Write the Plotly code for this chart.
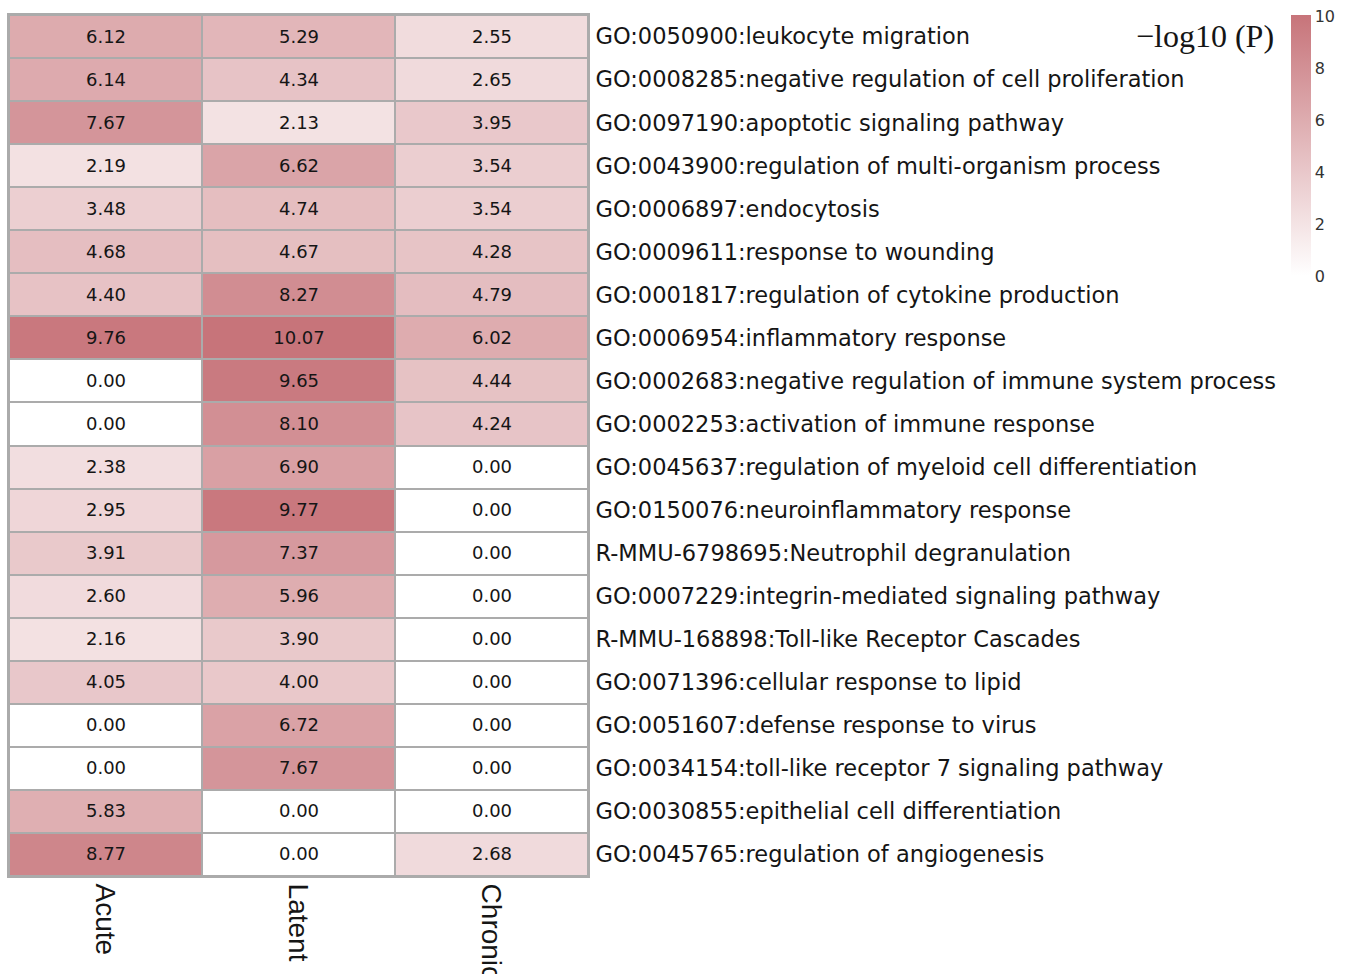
import plotly.graph_objects as go

# Enrichment terms (top to bottom) and the three stages
terms = [
    "GO:0050900:leukocyte migration",
    "GO:0008285:negative regulation of cell proliferation",
    "GO:0097190:apoptotic signaling pathway",
    "GO:0043900:regulation of multi-organism process",
    "GO:0006897:endocytosis",
    "GO:0009611:response to wounding",
    "GO:0001817:regulation of cytokine production",
    "GO:0006954:inflammatory response",
    "GO:0002683:negative regulation of immune system process",
    "GO:0002253:activation of immune response",
    "GO:0045637:regulation of myeloid cell differentiation",
    "GO:0150076:neuroinflammatory response",
    "R-MMU-6798695:Neutrophil degranulation",
    "GO:0007229:integrin-mediated signaling pathway",
    "R-MMU-168898:Toll-like Receptor Cascades",
    "GO:0071396:cellular response to lipid",
    "GO:0051607:defense response to virus",
    "GO:0034154:toll-like receptor 7 signaling pathway",
    "GO:0030855:epithelial cell differentiation",
    "GO:0045765:regulation of angiogenesis",
]
stages = ["Acute", "Latent", "Chronic"]

# -log10(P) per stage
acute = [6.12, 6.14, 7.67, 2.19, 3.48, 4.68, 4.40, 9.76, 0.00, 0.00,
         2.38, 2.95, 3.91, 2.60, 2.16, 4.05, 0.00, 0.00, 5.83, 8.77]
latent = [5.29, 4.34, 2.13, 6.62, 4.74, 4.67, 8.27, 10.07, 9.65, 8.10,
          6.90, 9.77, 7.37, 5.96, 3.90, 4.00, 6.72, 7.67, 0.00, 0.00]
chronic = [2.55, 2.65, 3.95, 3.54, 3.54, 4.28, 4.79, 6.02, 4.44, 4.24,
           0.00, 0.00, 0.00, 0.00, 0.00, 0.00, 0.00, 0.00, 0.00, 2.68]

colorbar_ticks = [0, 2, 4, 6, 8, 10]

z = [[a, l, c] for a, l, c in zip(acute, latent, chronic)]

W, H = 1352, 974
L, R, T, B = 9, 764, 15, 98
pw = W - L - R
ph = H - T - B

WIDE = "DejaVu Sans, Verdana, sans-serif"
GRID = "#ababab"

fig = go.Figure(
    go.Heatmap(
        z=z,
        x=stages,
        y=terms,
        zmin=0,
        zmax=10.07,
        colorscale=[[0, "rgb(255,255,255)"], [1, "rgb(199,116,122)"]],
        xgap=2,
        ygap=2,
        texttemplate="%{z:.2f}",
        textfont=dict(family=WIDE, size=18, color="#151515"),
        hoverinfo="skip",
        colorbar=dict(
            x=(1291 - L) / pw,
            xanchor="left",
            xref="paper",
            xpad=0,
            y=1 - (5 - T) / ph,
            yanchor="top",
            lenmode="pixels",
            len=281,
            ypad=10,
            thickness=20,
            outlinewidth=0,
            tickvals=colorbar_ticks,
            ticks="",
            ticklabelposition="outside",
            tickfont=dict(family=WIDE, size=16, color="#333333"),
        ),
    )
)

fig.update_layout(
    width=W,
    height=H,
    margin=dict(l=L, r=R, t=T, b=B, pad=0, autoexpand=False),
    paper_bgcolor="white",
    plot_bgcolor=GRID,
    font=dict(family=WIDE, color="#151515"),
    xaxis=dict(
        side="bottom",
        tickangle=90,
        tickfont=dict(family="Liberation Sans, Arial, sans-serif", size=28, color="#151515"),
        ticks="",
        automargin=False,
        showgrid=False,
        zeroline=False,
        showline=True,
        linecolor=GRID,
        linewidth=2,
        mirror=True,
        range=[-0.5, 2.5],
    ),
    yaxis=dict(
        side="right",
        autorange="reversed",
        tickfont=dict(family=WIDE, size=22.5, color="#151515"),
        ticks="",
        automargin=False,
        ticklabelstandoff=1,
        showgrid=False,
        zeroline=False,
        showline=True,
        linecolor=GRID,
        linewidth=2,
        mirror=True,
    ),
    annotations=[
        dict(
            text="\u2212log10 (P)",
            xref="paper",
            yref="paper",
            x=(1276 - L) / pw,
            y=1 - (36 - T) / ph,
            xanchor="right",
            yanchor="middle",
            showarrow=False,
            font=dict(family="Liberation Serif, Times New Roman, serif", size=32, color="#151515"),
        )
    ],
)

fig.write_html("out.html")
